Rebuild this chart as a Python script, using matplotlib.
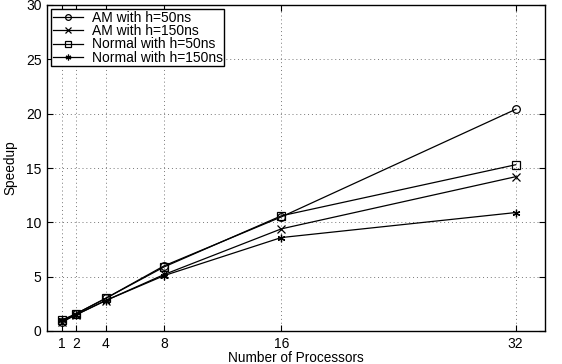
import matplotlib
matplotlib.use("Agg")
import matplotlib.pyplot as plt

plt.rcParams['font.family'] = ['Liberation Sans', 'DejaVu Sans']

processors = [1, 2, 4, 8, 16, 32]
am_50 = [0.8, 1.6, 3.0, 6.0, 10.5, 20.4]
am_150 = [0.8, 1.5, 2.8, 5.2, 9.4, 14.2]
normal_50 = [1.0, 1.6, 3.0, 5.9, 10.6, 15.3]
normal_150 = [1.0, 1.5, 2.8, 5.1, 8.6, 10.9]
labels = ["AM with h=50ns", "AM with h=150ns", "Normal with h=50ns", "Normal with h=150ns"]
markers = ['o', 'x', 's', (6, 2, 0)]

fig = plt.figure(figsize=(5.62, 3.64), dpi=100)
ax = fig.add_axes([47/562, 1 - 331/364, (545-47)/562, (331-5)/364])

for ys, lab, m in zip([am_50, am_150, normal_50, normal_150], labels, markers):
    ax.plot(processors, ys, color='black', linewidth=0.9, marker=m,
            markersize=5.5, markerfacecolor='none', markeredgecolor='black',
            markeredgewidth=0.9, label=lab)

ax.set_xlim(0, 34)
ax.set_ylim(0, 30)
ax.set_xticks(processors)
ax.set_yticks([0, 5, 10, 15, 20, 25, 30])
ax.grid(True, linestyle=(0, (1, 3)), color='#777777', linewidth=0.7)
ax.tick_params(direction='in', top=True, right=True, labelsize=10, length=4, pad=4)
for s in ax.spines.values():
    s.set_linewidth(1.0)
ax.set_xlabel("Number of Processors", fontsize=9.8, labelpad=0)
ax.set_ylabel("Speedup", fontsize=9.8, labelpad=6)

leg = ax.legend(loc='upper left', fontsize=10, frameon=True, fancybox=False,
                edgecolor='black', framealpha=1, borderpad=0.12,
                labelspacing=-0.05, handlelength=2.2, handletextpad=0.6,
                borderaxespad=0.3, markerscale=0.75)
leg.get_frame().set_linewidth(1.0)

fig.savefig("out.png", dpi=100)
